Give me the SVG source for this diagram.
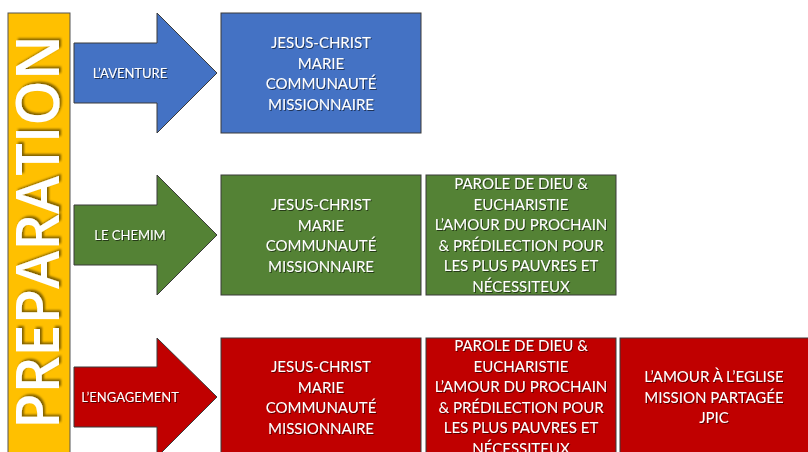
<svg xmlns="http://www.w3.org/2000/svg" width="808" height="452" viewBox="0 0 808 452">
<defs>
<filter id="sh" x="-10%" y="-10%" width="120%" height="130%">
<feDropShadow dx="1" dy="1" stdDeviation="0.6" flood-color="#000" flood-opacity="0.55"/>
</filter>
<filter id="sh2" x="-10%" y="-10%" width="130%" height="120%">
<feDropShadow dx="2" dy="2" stdDeviation="1.2" flood-color="#000" flood-opacity="0.5"/>
</filter>
</defs>
<style>
.box{stroke:#3a3a3a;stroke-width:1}
.blue{fill:#4472C4}
.green{fill:#548235}
.red{fill:#C00000}
.t{font-family:Lato,"Open Sans","Liberation Sans",sans-serif;font-size:15px;fill:#fff;text-anchor:middle;filter:url(#sh)}
.a{font-family:Lato,"Open Sans","Liberation Sans",sans-serif;font-size:13px;fill:#fff;text-anchor:middle;filter:url(#sh)}
</style>
<rect width="808" height="452" fill="#fff"/>
<g id="preparation">
<rect x="8" y="13" width="62" height="450" fill="#FFC000" stroke="#555" stroke-width="1"/>
<text transform="translate(59,232) rotate(-90)" text-anchor="middle" font-family="'Open Sans',Lato,'Liberation Sans',sans-serif" font-weight="600" font-size="60" fill="#fff" filter="url(#sh2)" textLength="394" lengthAdjust="spacingAndGlyphs">PREPARATION</text>
</g>
<g id="arrows">
<g id="arrow-aventure">
<polygon class="box blue" points="74,43 157,43 157,13 217,73 157,133 157,103 74,103"/>
<text class="a" x="130" y="78">L’AVENTURE</text>
</g>
<g id="arrow-chemin">
<polygon class="box green" points="74,205 157,205 157,175 217,235 157,295 157,265 74,265"/>
<text class="a" x="130" y="240">LE CHEMIM</text>
</g>
<g id="arrow-engagement">
<polygon class="box red" points="74,367 157,367 157,338 217,397 157,457 157,427 74,427"/>
<text class="a" x="130" y="402">L’ENGAGEMENT</text>
</g>
</g>
<g id="box-blue-1">
<rect class="box blue" x="221" y="13" width="200" height="120"/>
<text class="t" x="321" y="48">JESUS-CHRIST</text>
<text class="t" x="321" y="69">MARIE</text>
<text class="t" x="321" y="89">COMMUNAUTÉ</text>
<text class="t" x="321" y="110">MISSIONNAIRE</text>
</g>
<g id="box-green-1">
<rect class="box green" x="221" y="175" width="200" height="120"/>
<text class="t" x="321" y="210">JESUS-CHRIST</text>
<text class="t" x="321" y="231">MARIE</text>
<text class="t" x="321" y="251">COMMUNAUTÉ</text>
<text class="t" x="321" y="272">MISSIONNAIRE</text>
</g>
<g id="box-green-2">
<rect class="box green" x="426" y="175" width="190" height="120"/>
<text class="t" x="521" y="189">PAROLE DE DIEU &amp;</text>
<text class="t" x="521" y="210">EUCHARISTIE</text>
<text class="t" x="521" y="230">L’AMOUR DU PROCHAIN</text>
<text class="t" x="521" y="251">&amp; PRÉDILECTION POUR</text>
<text class="t" x="521" y="271">LES PLUS PAUVRES ET</text>
<text class="t" x="521" y="292">NÉCESSITEUX</text>
</g>
<g id="box-red-1">
<rect class="box red" x="221" y="338" width="200" height="120"/>
<text class="t" x="321" y="372">JESUS-CHRIST</text>
<text class="t" x="321" y="393">MARIE</text>
<text class="t" x="321" y="413">COMMUNAUTÉ</text>
<text class="t" x="321" y="434">MISSIONNAIRE</text>
</g>
<g id="box-red-2">
<rect class="box red" x="426" y="338" width="190" height="120"/>
<text class="t" x="521" y="351">PAROLE DE DIEU &amp;</text>
<text class="t" x="521" y="372">EUCHARISTIE</text>
<text class="t" x="521" y="392">L’AMOUR DU PROCHAIN</text>
<text class="t" x="521" y="413">&amp; PRÉDILECTION POUR</text>
<text class="t" x="521" y="433">LES PLUS PAUVRES ET</text>
<text class="t" x="521" y="454">NÉCESSITEUX</text>
</g>
<g id="box-red-3">
<rect class="box red" x="620" y="338" width="190" height="120"/>
<text class="t" x="714" y="382">L’AMOUR À L’EGLISE</text>
<text class="t" x="714" y="403">MISSION PARTAGÉE</text>
<text class="t" x="714" y="423">JPIC</text>
</g>
</svg>
